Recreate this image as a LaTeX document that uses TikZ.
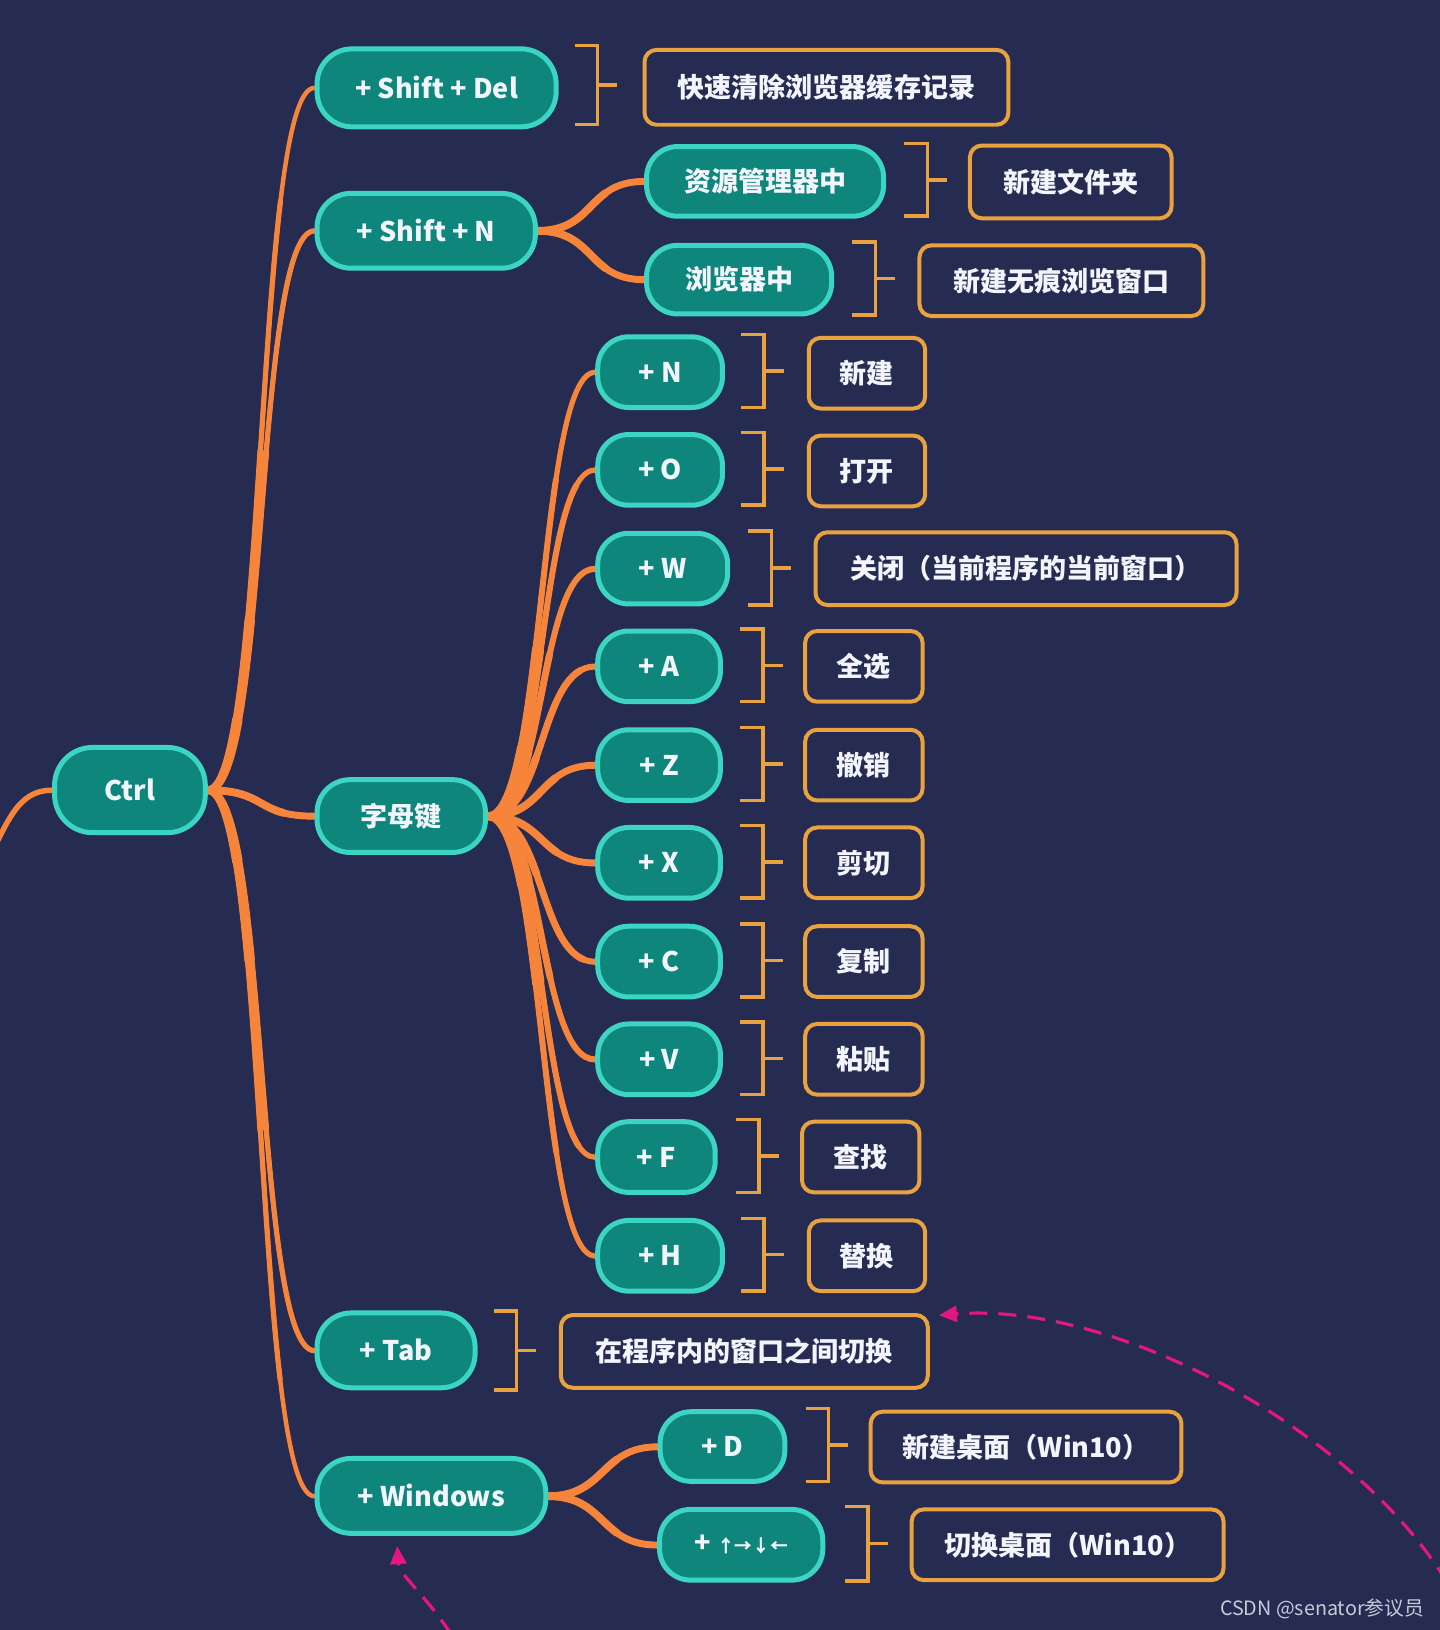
\documentclass[tikz,border=0pt]{standalone}
\usepackage{fontspec}
\setmainfont{Noto Sans CJK SC}
\usetikzlibrary{arrows.meta,calc}
\pgfdeclarelayer{background}
\pgfsetlayers{background,main}
\definecolor{bg}{RGB}{38,43,82}
\definecolor{tealf}{RGB}{14,134,124}
\definecolor{tealb}{RGB}{60,212,194}
\definecolor{conncol}{RGB}{246,132,58}
\definecolor{gold}{RGB}{233,162,62}
\definecolor{pinkc}{RGB}{228,22,130}
\definecolor{txt}{RGB}{242,246,252}
\definecolor{wmcol}{RGB}{200,202,214}
\tikzset{
  keynode/.style={draw=tealb, fill=tealf, line width=5pt, rounded corners=31pt,
    text=txt, font=\fontsize{26}{30}\selectfont\bfseries, minimum height=70pt, inner sep=0pt},
  descbox/.style={draw=gold, fill=bg, line width=4pt, rounded corners=12pt,
    text=txt, font=\fontsize{26}{30}\selectfont\bfseries, minimum height=68pt, inner sep=0pt},
  conn/.style={draw=conncol, line width=4.5pt, line cap=round},
  conna/.style={draw=conncol, line width=5.2pt, line cap=round, dash pattern=on 600pt off 9000pt},
  connb/.style={draw=conncol, line width=6pt, line cap=round, dash pattern=on 350pt off 9000pt},
  connc/.style={draw=conncol, line width=6.9pt, line cap=round, dash pattern=on 180pt off 9000pt},
  connd/.style={draw=conncol, line width=7.8pt, line cap=round, dash pattern=on 80pt off 9000pt},
  brk/.style={draw=gold, line width=3.5pt},
  pinkarrow/.style={draw=pinkc, line width=3.2pt, dash pattern=on 18pt off 11pt,
    -{Triangle[length=18pt,width=16pt]}}
}
\newcommand{\brkt}[3]{%
  \draw[brk] (#1,#2) -- (#1+22,#2) -- (#1+22,#3) -- (#1,#3);
  \draw[brk] (#1+22,{(#2+#3)/2}) -- (#1+41,{(#2+#3)/2});}
\newcommand{\taper}[3]{%
  \foreach \sty in {conn,conna,connb,connc,connd}
    {\draw[\sty] (#1) .. controls +(#3,0) and +(-#3,0) .. (#2);}}
\begin{document}
\begin{tikzpicture}[x=1pt,y=-1pt,scale=1.04,every node/.append style={transform shape}]
\begin{pgfonlayer}{background}
\fill[bg] (0,0) rectangle (1385,1568);
\end{pgfonlayer}
\useasboundingbox (0,0) rectangle (1385,1568);

% root
\node[keynode, minimum width=145pt, minimum height=82pt, rounded corners=38pt] (ctrl) at (125,760) {Ctrl};
\coordinate (offl) at (-3,810);

% level 1
\node[keynode, minimum width=230pt, minimum height=75pt, rounded corners=35pt] (sd) at (420,84.5) {+ Shift + Del};
\node[keynode, minimum width=210pt, minimum height=72pt, rounded corners=34pt] (sn) at (410,222) {+ Shift + N};
\node[keynode, minimum width=162pt, minimum height=70pt, rounded corners=33pt] (zm) at (386,785) {字母键};
\node[keynode, minimum width=152pt, minimum height=72pt, rounded corners=34pt] (tab) at (381,1299) {+ Tab};
\node[keynode, minimum width=220pt, minimum height=72pt, rounded corners=34pt] (win) at (415,1439) {+ Windows};

% Shift+Del
\node[descbox, minimum width=350pt, minimum height=72pt] (sdd) at (795,84) {快速清除浏览器缓存记录};
\brkt{553}{44}{120}

% Shift+N
\node[keynode, minimum width=228pt, minimum height=67pt] (zy) at (736,174.5) {资源管理器中};
\node[keynode, minimum width=178pt, minimum height=66pt] (ll) at (711,269) {浏览器中};
\node[descbox, minimum width=194pt, minimum height=70pt] (zyd) at (1030,175) {新建文件夹};
\node[descbox, minimum width=273pt] (lld) at (1021,270) {新建无痕浏览窗口};
\brkt{870}{138}{208}
\brkt{820}{233}{303}

% letters
\node[keynode, minimum width=120pt, minimum height=68pt] (kn) at (635,358) {+ N};
\node[keynode, minimum width=120pt, minimum height=68pt] (ko) at (635,452) {+ O};
\node[keynode, minimum width=125pt, minimum height=68pt] (kw) at (637.5,547) {+ W};
\node[keynode, minimum width=118pt, minimum height=68pt] (ka) at (634,641) {+ A};
\node[keynode, minimum width=118pt, minimum height=68pt] (kz) at (634,736) {+ Z};
\node[keynode, minimum width=118pt, minimum height=68pt] (kx) at (634,830) {+ X};
\node[keynode, minimum width=118pt, minimum height=68pt] (kc) at (634,925) {+ C};
\node[keynode, minimum width=118pt, minimum height=68pt] (kv) at (634,1019) {+ V};
\node[keynode, minimum width=113pt, minimum height=68pt] (kf) at (631.5,1113) {+ F};
\node[keynode, minimum width=120pt, minimum height=68pt] (kh) at (635,1208) {+ H};

\node[descbox, minimum width=112pt] (dn) at (834,359) {新建};
\node[descbox, minimum width=112pt] (do) at (834,453) {打开};
\node[descbox, minimum width=405pt, minimum height=70pt] (dw) at (987,547) {关闭（当前程序的当前窗口）};
\node[descbox, minimum width=113pt] (da) at (831,641) {全选};
\node[descbox, minimum width=113pt] (dz) at (831,736) {撤销};
\node[descbox, minimum width=113pt] (dx) at (831,830) {剪切};
\node[descbox, minimum width=113pt] (dc) at (831,925) {复制};
\node[descbox, minimum width=113pt] (dv) at (831,1019) {粘贴};
\node[descbox, minimum width=113pt] (df) at (828,1113) {查找};
\node[descbox, minimum width=112pt] (dh) at (834,1208) {替换};

\brkt{713}{322}{392}
\brkt{713}{416}{486}
\brkt{720}{511}{582}
\brkt{712}{605}{675}
\brkt{712}{700}{770}
\brkt{712}{794}{864}
\brkt{712}{889}{959}
\brkt{712}{983}{1053}
\brkt{708}{1077}{1147}
\brkt{713}{1172}{1242}

% Tab
\node[descbox, minimum width=353pt, minimum height=70pt] (tabd) at (716,1300) {在程序内的窗口之间切换};
\brkt{475}{1261}{1337}

% Windows
\node[keynode, minimum width=120pt, minimum height=67pt] (kd) at (695,1391.5) {+ D};
\node[keynode, minimum width=157pt, minimum height=68pt] (karr) at (713,1486) {+ {\fontsize{17}{20}\selectfont ↑→↓←}};
\node[descbox, minimum width=299pt] (dd) at (987,1392) {新建桌面（Win10）};
\node[descbox, minimum width=300pt] (darr) at (1027,1486) {切换桌面（Win10）};
\brkt{775}{1355}{1425}
\brkt{813}{1449}{1521}

% watermark
\node[font=\fontsize{19}{22}\selectfont, text=wmcol, anchor=east, inner sep=0pt] (wm) at (1370,1548) {CSDN @senator参议员};

% connectors
\begin{pgfonlayer}{background}
\draw[conn, line width=5.5pt] (ctrl.west) .. controls +(-28,0) and +(14,-28) .. (offl);
\foreach \c in {sd,sn,zm,tab,win}
  {\taper{ctrl.east}{\c.west}{58}}
\foreach \c in {zy,ll}
  {\taper{sn.east}{\c.west}{55}}
\foreach \c in {kn,ko,kw,ka,kz,kx,kc,kv,kf,kh}
  {\taper{zm.east}{\c.west}{55}}
\foreach \c in {kd,karr}
  {\taper{win.east}{\c.west}{55}}
\end{pgfonlayer}

% dashed pink arrows
\coordinate (pa0) at (1392,1522);
\coordinate (pa1) at (903,1265);
\coordinate (pb0) at (434,1572);
\coordinate (pb1) at (382,1487);
\draw[pinkarrow] (pa0) .. controls (1300,1372) and (1070,1252) .. (pa1);
\draw[pinkarrow] (pb0) .. controls (410,1535) and (384,1515) .. (pb1);
\end{tikzpicture}
\end{document}
